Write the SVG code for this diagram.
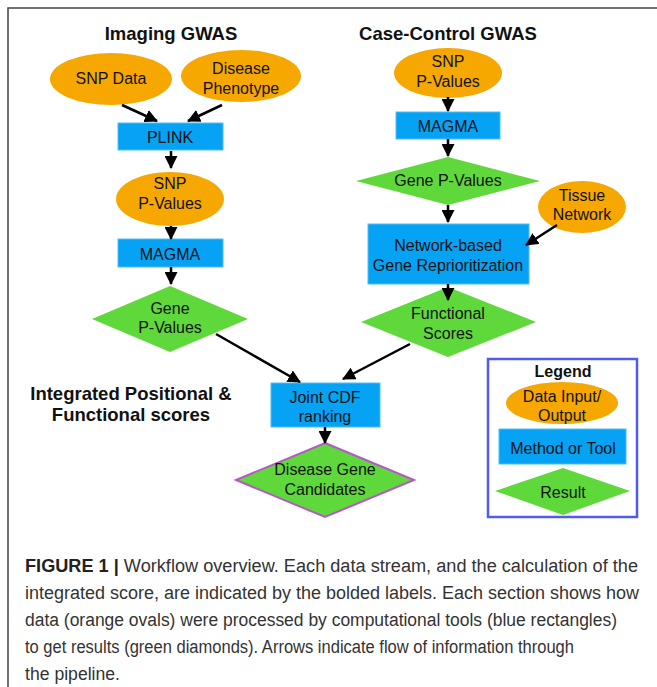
<svg xmlns="http://www.w3.org/2000/svg" width="657" height="687" viewBox="0 0 657 687">
<defs>
<style>
.t{font-family:"Liberation Sans",Arial,sans-serif;font-size:16px;fill:#111;text-anchor:middle}
.h{font-family:"Liberation Sans",Arial,sans-serif;font-size:18.5px;font-weight:bold;fill:#111;text-anchor:middle}
.cap{font-family:"Liberation Sans",Arial,sans-serif;font-size:18px;fill:#333}
.ov{fill:#F6A800}
.rc{fill:#06A2F4;stroke:#4fbdf7;stroke-width:1}
.dm{fill:#5FD83B}
.ar{stroke:#000;stroke-width:2.5;fill:none;marker-end:url(#ah)}
</style>
<marker id="ah" markerUnits="userSpaceOnUse" markerWidth="13" markerHeight="13" refX="12" refY="6.5" orient="auto">
<path d="M0,0 L13,6.5 L0,13 z" fill="#000"/>
</marker>
</defs>
<rect width="657" height="687" fill="#fff"/>
<path d="M8,687 L8,8 L657,8" fill="none" stroke="#444" stroke-width="1.5"/>

<text class="h" x="171" y="40">Imaging GWAS</text>
<text class="h" x="448" y="40">Case-Control GWAS</text>
<text class="h" x="131" y="400">Integrated Positional &amp;</text>
<text class="h" x="131" y="421">Functional scores</text>

<g id="snp-data"><ellipse class="ov" cx="111" cy="79" rx="61" ry="26"/><text class="t" x="111" y="84">SNP Data</text></g>
<g id="disease-phenotype"><ellipse class="ov" cx="241" cy="76" rx="60" ry="26"/><text class="t" x="241" y="74">Disease</text><text class="t" x="241" y="94">Phenotype</text></g>
<g id="plink"><rect class="rc" x="118" y="123" width="105" height="27"/><text class="t" x="170" y="143">PLINK</text></g>
<g id="snp-pvalues-left"><ellipse class="ov" cx="170" cy="199" rx="54" ry="27"/><text class="t" x="170" y="189">SNP</text><text class="t" x="170" y="209">P-Values</text></g>
<g id="magma-left"><rect class="rc" x="118" y="239" width="105" height="28"/><text class="t" x="170" y="260">MAGMA</text></g>
<g id="gene-pvalues-left"><polygon class="dm" points="170,286 248,319 170,352 92,319"/><text class="t" x="170" y="314">Gene</text><text class="t" x="170" y="333">P-Values</text></g>

<g id="snp-pvalues-right"><ellipse class="ov" cx="448" cy="73" rx="54" ry="25"/><text class="t" x="448" y="67">SNP</text><text class="t" x="448" y="87">P-Values</text></g>
<g id="magma-right"><rect class="rc" x="396" y="112" width="104" height="27"/><text class="t" x="448" y="132">MAGMA</text></g>
<g id="gene-pvalues-right"><polygon class="dm" points="448,157 540,181 448,205 356,181"/><text class="t" x="448" y="186">Gene P-Values</text></g>
<g id="tissue-network"><ellipse class="ov" cx="582" cy="207" rx="44" ry="26"/><text class="t" x="582" y="201">Tissue</text><text class="t" x="582" y="220">Network</text></g>
<g id="network-reprioritization"><rect class="rc" x="368" y="224" width="161" height="60"/><text class="t" x="448" y="251">Network-based</text><text class="t" x="448" y="271">Gene Reprioritization</text></g>
<g id="functional-scores"><polygon class="dm" points="448,287 536,322 448,357 361,322"/><text class="t" x="448" y="319">Functional</text><text class="t" x="448" y="339">Scores</text></g>

<g id="joint-cdf"><rect class="rc" x="271" y="383" width="109" height="44"/><text class="t" x="325" y="403">Joint CDF</text><text class="t" x="325" y="422">ranking</text></g>
<g id="disease-gene-candidates"><polygon points="325,443 414,480 325,517 236,480" fill="#5FD83B" stroke="#B458C4" stroke-width="2"/><text class="t" x="325" y="475">Disease Gene</text><text class="t" x="325" y="495">Candidates</text></g>

<g id="legend">
<rect x="488" y="359" width="149" height="158" fill="none" stroke="#4F5CF0" stroke-width="2.5"/>
<text class="t" x="563" y="377" style="font-weight:bold">Legend</text>
<ellipse class="ov" cx="562" cy="403" rx="56" ry="21"/><text class="t" x="562" y="402">Data Input/</text><text class="t" x="562" y="421">Output</text>
<rect class="rc" x="499" y="429" width="127" height="35"/><text class="t" x="563" y="454">Method or Tool</text>
<polygon class="dm" points="563,468 630,491 563,515 495,491"/><text class="t" x="563" y="498">Result</text>
</g>

<g id="connectors">
<line class="ar" x1="122" y1="105" x2="157" y2="121"/>
<line class="ar" x1="222" y1="105" x2="188" y2="121"/>
<line class="ar" x1="171" y1="151" x2="171" y2="168"/>
<line class="ar" x1="171" y1="226" x2="171" y2="239"/>
<line class="ar" x1="171" y1="267" x2="171" y2="284"/>
<line class="ar" x1="216" y1="334" x2="300" y2="382"/>
<line class="ar" x1="448" y1="97" x2="448" y2="111"/>
<line class="ar" x1="448" y1="139" x2="448" y2="156"/>
<line class="ar" x1="448" y1="205" x2="448" y2="222"/>
<line class="ar" x1="557" y1="225" x2="526" y2="245"/>
<line class="ar" x1="448" y1="284" x2="448" y2="300"/>
<line class="ar" x1="410" y1="344" x2="343" y2="379"/>
<line class="ar" x1="325" y1="427" x2="325" y2="443"/>
</g>

<g id="caption">
<text class="cap" x="25" y="572" textLength="613" lengthAdjust="spacingAndGlyphs"><tspan font-weight="bold" fill="#222">FIGURE 1 |</tspan> Workflow overview. Each data stream, and the calculation of the</text>
<text class="cap" x="25" y="599" textLength="614" lengthAdjust="spacingAndGlyphs">integrated score, are indicated by the bolded labels. Each section shows how</text>
<text class="cap" x="25" y="626" textLength="592" lengthAdjust="spacingAndGlyphs">data (orange ovals) were processed by computational tools (blue rectangles)</text>
<text class="cap" x="25" y="653" textLength="549" lengthAdjust="spacingAndGlyphs">to get results (green diamonds). Arrows indicate flow of information through</text>
<text class="cap" x="25" y="680" textLength="95" lengthAdjust="spacingAndGlyphs">the pipeline.</text>
</g>
</svg>
